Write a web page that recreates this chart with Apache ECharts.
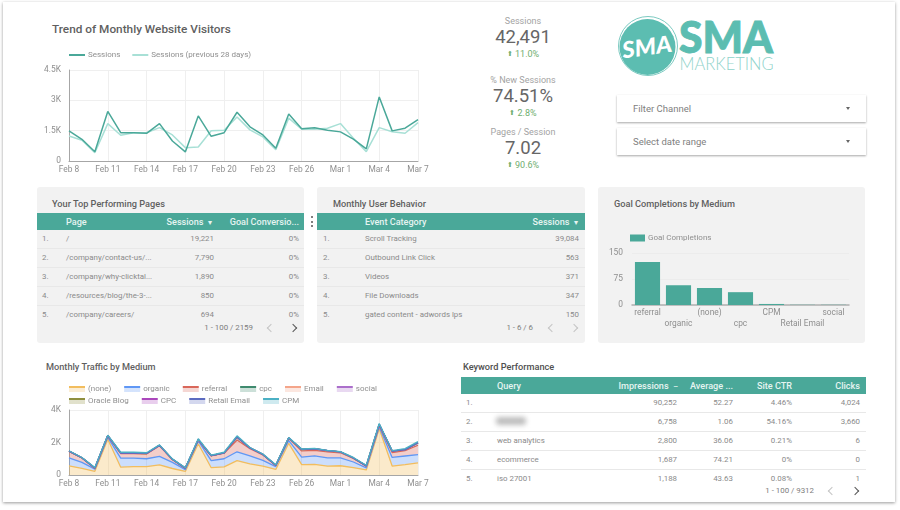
<!DOCTYPE html>
<html>
<head>
<meta charset="utf-8">
<title>SMA Marketing dashboard</title>
<script src="https://cdn.jsdelivr.net/npm/echarts@6/dist/echarts.min.js"></script>
<style>
  html, body { margin: 0; padding: 0; background: #fff; }
  body { width: 900px; height: 510px; position: relative; overflow: hidden; font-family: Roboto, sans-serif; color: #757575; }
  .abs, .page, .panel, .tbl, .title, .chart { position: absolute; }
  .page { left: 3px; top: 2px; width: 892px; height: 500px; background: #fff; box-shadow: 0 1px 3px rgba(0,0,0,.4); }
  .panel { background: #f2f2f2; border-radius: 3px; top: 187px; height: 156px; }
  .title { font-weight: 500; font-size: 9.2px; color: #5f5f5f; white-space: nowrap; line-height: 12px; }
  .tbl { font-size: 7.9px; color: #8a8a8a; }
  .hdr { position: absolute; left: 0; right: 0; top: 0; height: 17px; background: #4aa899; }
  .hdr span { position: absolute; top: 0; line-height: 18px; color: #e6f4f1; font-weight: 500; font-size: 9.1px; white-space: nowrap; }
  .row { position: absolute; left: 0; right: 0; height: 19px; border-bottom: 1px solid #e8e8e8; box-sizing: border-box; }
  .row.last { border-bottom: 0; }
  .row span { position: absolute; top: 0; line-height: 18px; white-space: nowrap; }
  .pager { position: absolute; font-size: 7.9px; line-height: 12px; color: #7d7d7d; white-space: nowrap; }
  .arrow { position: absolute; width: 5px; height: 5px; border-top: 1.2px solid #555; border-right: 1.2px solid #555; transform: rotate(45deg); }
  .arrow.prev { transform: rotate(-135deg); border-color: #c4c4c4; }
  .arrow.off { border-color: #c4c4c4; }
  .stat { position: absolute; left: 462px; width: 122px; text-align: center; white-space: nowrap; }
  .stat .lbl { position: absolute; left: 0; right: 0; top: 0; font-size: 9px; line-height: 12px; color: #a3a3a3; }
  .stat .val { position: absolute; left: 0; right: 0; top: 10px; font-size: 18.5px; line-height: 24px; color: #666; }
  .stat .dlt { position: absolute; left: 0; right: 0; top: 33px; font-size: 9px; line-height: 12px; color: #6fae6f; }
  .stat .dlt small { font-size: 7px; vertical-align: 1px; }
  .drop { position: absolute; left: 617px; width: 249px; height: 27px; background: #fff; box-shadow: 0 1px 2px rgba(0,0,0,.35); font-size: 9.5px; line-height: 27px; color: #808080; text-indent: 16px; }
  .drop i { position: absolute; right: 16px; top: 12px; width: 0; height: 0; border-left: 2.5px solid transparent; border-right: 2.5px solid transparent; border-top: 3px solid #666; }
  .dots { position: absolute; left: 311px; width: 2.4px; height: 2.4px; border-radius: 50%; background: #555; }
</style>
</head>
<body>
<div class="page"></div>

<div class="title" style="left:52px;top:22px;font-size:11.8px;line-height:15px">Trend of Monthly Website Visitors</div>
<div id="trend" class="chart" style="left:20px;top:42px;width:440px;height:140px"></div>

<div id="stats"></div>

<!-- logo -->
<svg class="abs" style="left:612px;top:12px" width="170" height="70" viewBox="0 0 170 70">
  <circle cx="35.5" cy="35" r="28" fill="#5cbdb1"/>
  <circle cx="36" cy="34" r="29.5" fill="none" stroke="#5cbdb1" stroke-width="0.8"/>
  <text x="35" y="43" text-anchor="middle" transform="rotate(-8 35 35)" font-family="Lato, sans-serif" font-style="italic" font-weight="900" font-size="23" fill="#fff" textLength="50" lengthAdjust="spacingAndGlyphs">SMA</text>
  <text x="67" y="41" font-family="Lato, sans-serif" font-weight="900" font-size="43" fill="#5cbdb1" stroke="#5cbdb1" stroke-width="0.9" textLength="94" lengthAdjust="spacingAndGlyphs">SMA</text>
  <text x="67.5" y="58" font-family="Lato, sans-serif" font-weight="300" font-size="17" fill="#8fd3ca" textLength="94" lengthAdjust="spacingAndGlyphs">MARKETING</text>
</svg>

<div class="drop" style="top:95px">Filter Channel<i></i></div>
<div class="drop" style="top:128px">Select date range<i></i></div>

<div class="panel" style="left:37px;width:267px"></div>
<div class="panel" style="left:317px;width:268px"></div>
<div class="panel" style="left:598px;width:267px"></div>
<div class="dots" style="top:216px"></div>
<div class="dots" style="top:220.5px"></div>
<div class="dots" style="top:225px"></div>

<div class="title" style="left:52px;top:198px">Your Top Performing Pages</div>
<div class="title" style="left:333px;top:198px">Monthly User Behavior</div>
<div class="title" style="left:614px;top:198px">Goal Completions by Medium</div>
<div class="title" style="left:46px;top:361px">Monthly Traffic by Medium</div>
<div class="title" style="left:463px;top:361px;color:#4f4f4f">Keyword Performance</div>

<div id="goal" class="chart" style="left:598px;top:227px;width:267px;height:116px"></div>
<div id="traffic" class="chart" style="left:20px;top:377px;width:440px;height:125px"></div>

<div id="tables"></div>

<script>
// dates along both time charts
const days = ["Feb 8","Feb 9","Feb 10","Feb 11","Feb 12","Feb 13","Feb 14","Feb 15","Feb 16","Feb 17","Feb 18","Feb 19","Feb 20","Feb 21","Feb 22","Feb 23","Feb 24","Feb 25","Feb 26","Feb 27","Feb 28","Mar 1","Mar 2","Mar 3","Mar 4","Mar 5","Mar 6","Mar 7"];

// trend chart
const sessions = [1490,1075,460,2450,1400,1400,1370,1850,990,450,2230,1220,1400,2410,1690,1290,630,2320,1600,1640,1520,1440,1080,600,3170,1490,1620,2050];
const sessionsPrev = [1240,1030,410,1850,1270,1400,1400,1650,1290,660,690,1500,1520,2180,1540,1190,560,2120,1570,1570,1620,1850,1120,460,1650,1450,1370,1900];

// traffic by medium, read as the height of each band
const mediumNames = ["(none)","organic","referral","cpc","Email","social","Oracle Blog","CPC","Retail Email","CPM"];
const mediumColors = ["#f2bd5e","#5f97f5","#d9675a","#3f8a6e","#f4a58a","#ab6fcb","#8f8f3f","#ab47bc","#5c6bc0","#4bb0c4"];
const noneVals = [560,410,230,2200,480,510,520,620,400,220,1920,450,500,880,680,540,340,1950,640,660,550,570,450,310,2850,550,640,750];
const organicVals = [500,370,130,120,560,530,480,530,380,110,180,430,500,550,490,360,180,170,460,520,510,490,350,130,100,530,530,500];
const referralVals = [390,270,40,80,280,270,290,650,170,70,50,290,340,720,450,340,60,140,380,330,370,310,220,110,100,300,330,580];
const cpcVals = [10,5,20,20,30,40,30,20,10,20,20,20,20,190,40,20,10,20,90,100,60,50,20,10,60,90,60,160];
const emailVals = [0,0,0,0,0,0,0,0,0,0,0,0,0,0,0,0,0,0,0,0,0,0,0,0,0,0,0,0];
const socialVals = [5,5,5,5,5,5,5,5,5,5,5,5,5,5,5,5,5,5,5,5,5,5,5,5,5,5,5,5];
const oracleVals = [0,0,0,0,0,0,0,0,0,0,0,0,0,0,0,0,0,0,0,0,0,0,0,0,0,0,0,0];
const cpcUpperVals = [0,0,0,0,0,0,0,0,0,0,0,0,0,0,0,0,0,0,0,0,0,0,0,0,0,0,0,0];
const retailVals = [0,0,0,0,0,0,0,5,0,0,0,0,0,0,0,0,0,0,0,0,0,0,0,0,0,0,0,0];
const cpmVals = [25,15,35,25,45,45,45,25,25,25,55,30,35,65,30,25,35,20,25,25,25,15,35,35,55,20,55,55];
const mediumVals = [noneVals,organicVals,referralVals,cpcVals,emailVals,socialVals,oracleVals,cpcUpperVals,retailVals,cpmVals];

// goal completions
const goalCats = ["referral","organic","(none)","cpc","CPM","Retail Email","social"];
const goalVals = [124,57,49,37,3,0.6,0.6];

// scorecards
const statLabels = ["Sessions","% New Sessions","Pages / Session"];
const statValues = ["42,491","74.51%","7.02"];
const statChanges = ["11.0%","2.8%","90.6%"];

// tables
const pagesRows = [["/","19,221","0%"],["/company/contact-us/...","7,790","0%"],["/company/why-clicktal...","1,890","0%"],["/resources/blog/the-3-...","850","0%"],["/company/careers/","694","0%"]];
const behaviorRows = [["Scroll Tracking","39,084"],["Outbound Link Click","563"],["Videos","371"],["File Downloads","347"],["gated content - adwords lps","150"]];
const keywordRows = [["","90,252","52.27","4.46%","4,024"],["","6,758","1.06","54.16%","3,660"],["web analytics","2,800","36.06","0.21%","6"],["ecommerce","1,687","74.21","0%","0"],["iso 27001","1,188","43.63","0.08%","1"]];

const statTops = [15, 74, 126];
document.getElementById("stats").innerHTML = statLabels.map((l, i) =>
  `<div class="stat" style="top:${statTops[i]}px"><div class="lbl">${l}</div><div class="val">${statValues[i]}</div><div class="dlt"><small>&#11014;&#xFE0E;</small> ${statChanges[i]}</div></div>`
).join("");

// builds one table; cols are {x} for left aligned or {r} for right aligned, in px from the table's left edge
function buildTable(box, headers, cols, rows, rankX, pager) {
  let html = `<div class="tbl" style="left:${box.x}px;top:${box.y}px;width:${box.w}px;height:${box.h}px">`;
  html += `<div class="hdr">` + headers.map((h) => {
    const c = h.pos;
    const place = c.x !== undefined ? `left:${c.x}px` : `right:${box.w - c.r}px`;
    return `<span style="${place}">${h.text}</span>`;
  }).join("") + `</div>`;
  rows.forEach((row, r) => {
    html += `<div class="row${r === rows.length - 1 ? " last" : ""}" style="top:${17 + r * 19 - 0.5}px"><span style="left:${rankX}px">${r + 1}.</span>`;
    row.forEach((v, i) => {
      const c = cols[i];
      const place = c.x !== undefined ? `left:${c.x}px` : `right:${box.w - c.r}px`;
      html += `<span style="${place}">${v}</span>`;
    });
    html += `</div>`;
  });
  html += `<div class="pager" style="right:${box.w - pager.r}px;top:${pager.y}px">${pager.text}</div>`;
  html += `<div class="arrow prev" style="left:${pager.a1}px;top:${pager.y + 3}px"></div>`;
  html += `<div class="arrow${pager.off ? " off" : ""}" style="left:${pager.a2}px;top:${pager.y + 3}px"></div>`;
  return html + `</div>`;
}

document.getElementById("tables").innerHTML =
  buildTable({x:37,y:213,w:267,h:125},
    [{text:"Page",pos:{x:29}},{text:"Sessions &nbsp;<small>&#9662;</small>",pos:{r:175}},{text:"Goal Conversio...",pos:{r:262}}],
    [{x:29},{r:177},{r:262}], pagesRows, 5,
    {text:"1 - 100 / 2159",r:216,y:109,a1:231,a2:253}) +
  buildTable({x:317,y:213,w:268,h:125},
    [{text:"Event Category",pos:{x:48}},{text:"Sessions &nbsp;<small>&#9662;</small>",pos:{r:261}}],
    [{x:48},{r:262}], behaviorRows, 6,
    {text:"1 - 6 / 6",r:216,y:109,a1:232,a2:254,off:true}) +
  buildTable({x:461,y:377,w:405,h:120},
    [{text:"Query",pos:{x:36}},{text:"Impressions &nbsp;<small>&ndash;</small>",pos:{r:217}},{text:"Average ...",pos:{r:272}},{text:"Site CTR",pos:{r:331}},{text:"Clicks",pos:{r:399}}],
    [{x:36},{r:216},{r:272},{r:331},{r:399}], keywordRows, 5,
    {text:"1 - 100 / 9312",r:353,y:108,a1:368,a2:391});

// the query hidden by the author in row 2
const blur = document.createElement("div");
blur.style.cssText = "position:absolute;left:496px;top:417px;width:30px;height:8px;background:#bdbdbd;filter:blur(2.5px);border-radius:3px";
document.body.appendChild(blur);

const labelColor = "#8f8f8f";
const gridColor = "#efefef";
const chartFont = { color: labelColor, fontFamily: "Roboto" };

// axes shared by the two time charts
function timeX() {
  return {
    type: "category", data: days, boundaryGap: false,
    axisLine: { lineStyle: { color: "#a6a6a6", width: 1 } },
    axisTick: { show: false },
    axisLabel: { ...chartFont, interval: 2, fontSize: 8.4, margin: 5 },
    splitLine: { show: true, interval: 2, lineStyle: { color: gridColor } },
  };
}
function timeY(max, interval, fmt) {
  return {
    type: "value", min: 0, max: max, interval: interval,
    axisLine: { show: true, lineStyle: { color: "#a6a6a6", width: 1 } },
    axisTick: { show: false },
    axisLabel: { ...chartFont, fontSize: 8.4, margin: 8, formatter: fmt },
    splitLine: { lineStyle: { color: gridColor } },
  };
}
const kFmt = (v) => (v === 0 ? "0" : v / 1000 + "K");
const legendText = { ...chartFont, fontSize: 8, padding: [0, 0, 0, -2] };

const trend = echarts.init(document.getElementById("trend"));
trend.setOption({
  animation: false,
  grid: { left: 49, right: 42, top: 28, bottom: 21 },
  legend: {
    left: 49, top: 9, padding: 0, itemWidth: 16, itemHeight: 2, itemGap: 12, icon: "rect",
    textStyle: legendText,
    data: ["Sessions", "Sessions (previous 28 days)"],
  },
  xAxis: timeX(),
  yAxis: timeY(4500, 1500, kFmt),
  series: [
    { name: "Sessions (previous 28 days)", type: "line", data: sessionsPrev, showSymbol: false, z: 2, itemStyle: { color: "#a8e0d6" }, lineStyle: { color: "#a8e0d6", width: 1.5 } },
    { name: "Sessions", type: "line", data: sessions, showSymbol: false, z: 3, itemStyle: { color: "#4aa899" }, lineStyle: { color: "#4aa899", width: 1.5 } },
  ],
});

const goal = echarts.init(document.getElementById("goal"));
goal.setOption({
  animation: false,
  grid: { left: 34, right: 16, top: 26, bottom: 38 },
  legend: {
    left: 32, top: 7, padding: 0, itemWidth: 15, itemHeight: 7, icon: "rect",
    textStyle: { ...chartFont, fontSize: 8, padding: [0, 0, 0, -2] },
  },
  xAxis: {
    type: "category", data: goalCats,
    axisLine: { lineStyle: { color: "#b0b0b0", width: 1.5 } },
    axisTick: { show: false },
    axisLabel: {
      ...chartFont, interval: 0, fontSize: 8.4, margin: 2, lineHeight: 11,
      formatter: (v, i) => (i % 2 ? "\n" + v : v),
    },
  },
  yAxis: {
    type: "value", min: 0, max: 150, interval: 75,
    axisLine: { show: false }, axisTick: { show: false },
    axisLabel: { ...chartFont, fontSize: 8.4, margin: 9 },
    splitLine: { lineStyle: { color: "#ececec" } },
  },
  series: [{ name: "Goal Completions", type: "bar", data: goalVals, barCategoryGap: "19%", itemStyle: { color: "#4aa899" } }],
});

// legend swatch: solid line over a faded band, like the area marks
function swatches(from, to) {
  return mediumNames.slice(from, to).map((name, k) => {
    const c = mediumColors[from + k];
    return {
      name,
      itemStyle: {
        color: new echarts.graphic.LinearGradient(0, 0, 0, 1, [
          { offset: 0, color: c }, { offset: 0.34, color: c },
          { offset: 0.34, color: c + "44" }, { offset: 1, color: c + "44" },
        ]),
      },
    };
  });
}
const mediumLegend = { left: 49, padding: 0, itemWidth: 16, itemHeight: 6, itemGap: 13, icon: "rect", textStyle: legendText };

const traffic = echarts.init(document.getElementById("traffic"));
traffic.setOption({
  animation: false,
  grid: { left: 49, right: 42, top: 33, bottom: 27 },
  legend: [
    { ...mediumLegend, top: 8, data: swatches(0, 6) },
    { ...mediumLegend, top: 20, data: swatches(6, 10) },
  ],
  xAxis: timeX(),
  yAxis: timeY(4000, 2000, kFmt),
  series: mediumNames.map((name, i) => ({
    name, type: "line", stack: "medium", data: mediumVals[i], showSymbol: false,
    itemStyle: { color: mediumColors[i] },
    lineStyle: { color: mediumColors[i], width: 1.3 },
    areaStyle: { color: mediumColors[i], opacity: 0.32 },
  })),
});
</script>
</body>
</html>
